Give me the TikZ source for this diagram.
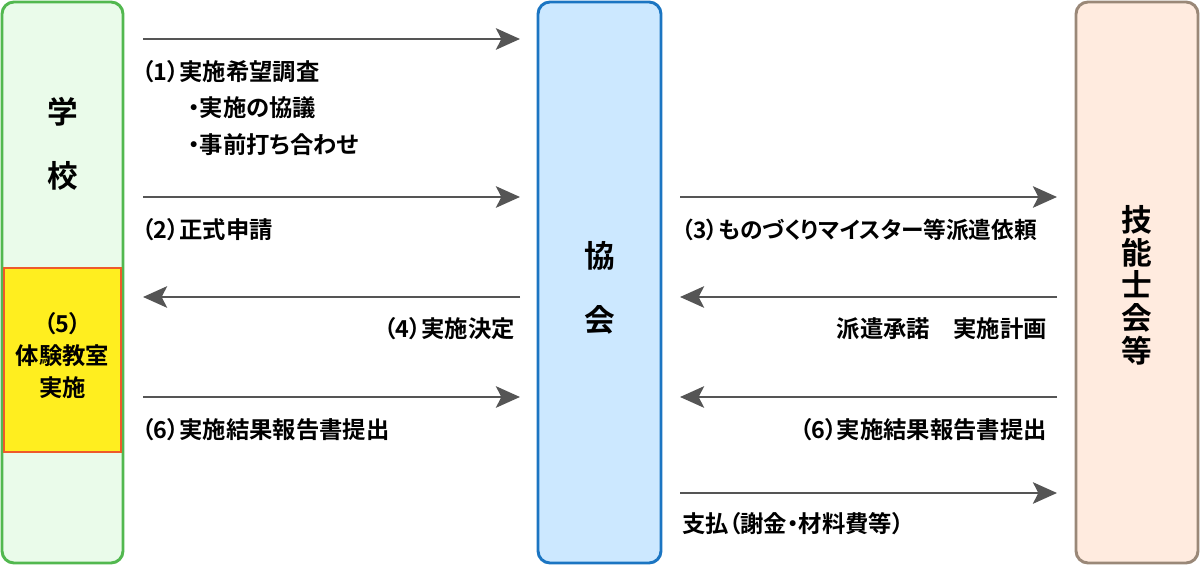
\documentclass[tikz,border=0pt]{standalone}
\usepackage{fontspec}
\setmainfont{Noto Sans CJK JP}[BoldFont={Noto Sans CJK JP Bold}, RawFeature=+palt]
\usetikzlibrary{arrows.meta}
\definecolor{grnline}{HTML}{52B84F}
\definecolor{grnfill}{HTML}{EAFBEA}
\definecolor{bluline}{HTML}{1B75C2}
\definecolor{blufill}{HTML}{CCE8FF}
\definecolor{brnline}{HTML}{9A8878}
\definecolor{brnfill}{HTML}{FFEBDF}
\definecolor{yelfill}{HTML}{FFEE1F}
\definecolor{redline}{HTML}{EE5A2A}
\definecolor{arrgray}{HTML}{555555}
\begin{document}
\begin{tikzpicture}[x=0.75pt,y=-0.75pt,
  colbox/.style={rounded corners=9pt, line width=2.2pt, inner sep=0pt},
  arr/.style={draw=arrgray, line width=2.2pt, -{Stealth[length=18pt,width=16pt,inset=4pt]}},
  lbl/.style={inner sep=0pt, font=\fontsize{17.5}{20}\selectfont\bfseries},
  big/.style={inner sep=0pt, font=\fontsize{23}{28}\selectfont\bfseries}
]
\useasboundingbox (0,0) rectangle (1200,566);
% columns
\node[colbox, draw=grnline, fill=grnfill, minimum width=90.75pt, minimum height=420.75pt] (school) at (62.5,282.5) {};
\node[draw=redline, fill=yelfill, line width=1.5pt, inner sep=0pt, minimum width=87.75pt, minimum height=138pt] (exp) at (62.5,360) {};
\node[colbox, draw=bluline, fill=blufill, minimum width=92.25pt, minimum height=420.75pt] (assoc) at (599.5,282.5) {};
\node[colbox, draw=brnline, fill=brnfill, minimum width=91.5pt, minimum height=420.75pt] (guild) at (1137,282.5) {};
% column titles
\node[big] (t1) at (62.5,112) {学};
\node[big] (t2) at (62.5,176) {校};
\node[big] (t3) at (599.5,256) {協};
\node[big] (t4) at (599.5,320) {会};
\node[big, align=center, font=\fontsize{23}{24.5}\selectfont\bfseries] (t5) at (1137,285) {技\\能\\士\\会\\等};
\node[lbl, align=center, font=\fontsize{17.5}{24}\selectfont\bfseries] (t6) at (62.5,356) {（5）\\体験教室\\実施};
% arrow end points
\coordinate (a1s) at (143,39);  \coordinate (a1e) at (520,39);
\coordinate (a2s) at (143,197); \coordinate (a2e) at (520,197);
\coordinate (a4s) at (520,297); \coordinate (a4e) at (143,297);
\coordinate (a6s) at (143,397); \coordinate (a6e) at (520,397);
\coordinate (b3s) at (680,197); \coordinate (b3e) at (1057,197);
\coordinate (b4s) at (1057,297); \coordinate (b4e) at (680,297);
\coordinate (b6s) at (1057,397); \coordinate (b6e) at (680,397);
\coordinate (b7s) at (680,493); \coordinate (b7e) at (1057,493);
\draw[arr] (a1s) -- (a1e);
\draw[arr] (a2s) -- (a2e);
\draw[arr] (a4s) -- (a4e);
\draw[arr] (a6s) -- (a6e);
\draw[arr] (b3s) -- (b3e);
\draw[arr] (b4s) -- (b4e);
\draw[arr] (b6s) -- (b6e);
\draw[arr] (b7s) -- (b7e);
% labels
\node[lbl, anchor=west] (l1) at (142,72) {（1）実施希望調査};
\node[lbl, anchor=west] (l1a) at (188,108) {・実施の協議};
\node[lbl, anchor=west] (l1b) at (188,145) {・事前打ち合わせ};
\node[lbl, anchor=west] (l2) at (142,230) {（2）正式申請};
\node[lbl, anchor=east] (l4) at (515,329) {（4）実施決定};
\node[lbl, anchor=west] (l6) at (142,430) {（6）実施結果報告書提出};
\node[lbl, anchor=west, font=\fontsize{17}{20}\selectfont\bfseries] (r3) at (682,230) {（3）ものづくりマイスター等派遣依頼};
\node[lbl, anchor=east] (r4) at (1047,329) {派遣承諾　実施計画};
\node[lbl, anchor=east] (r6) at (1047,430) {（6）実施結果報告書提出};
\node[lbl, anchor=west] (r7) at (682,524) {支払（謝金・材料費等）};
\end{tikzpicture}
\end{document}
